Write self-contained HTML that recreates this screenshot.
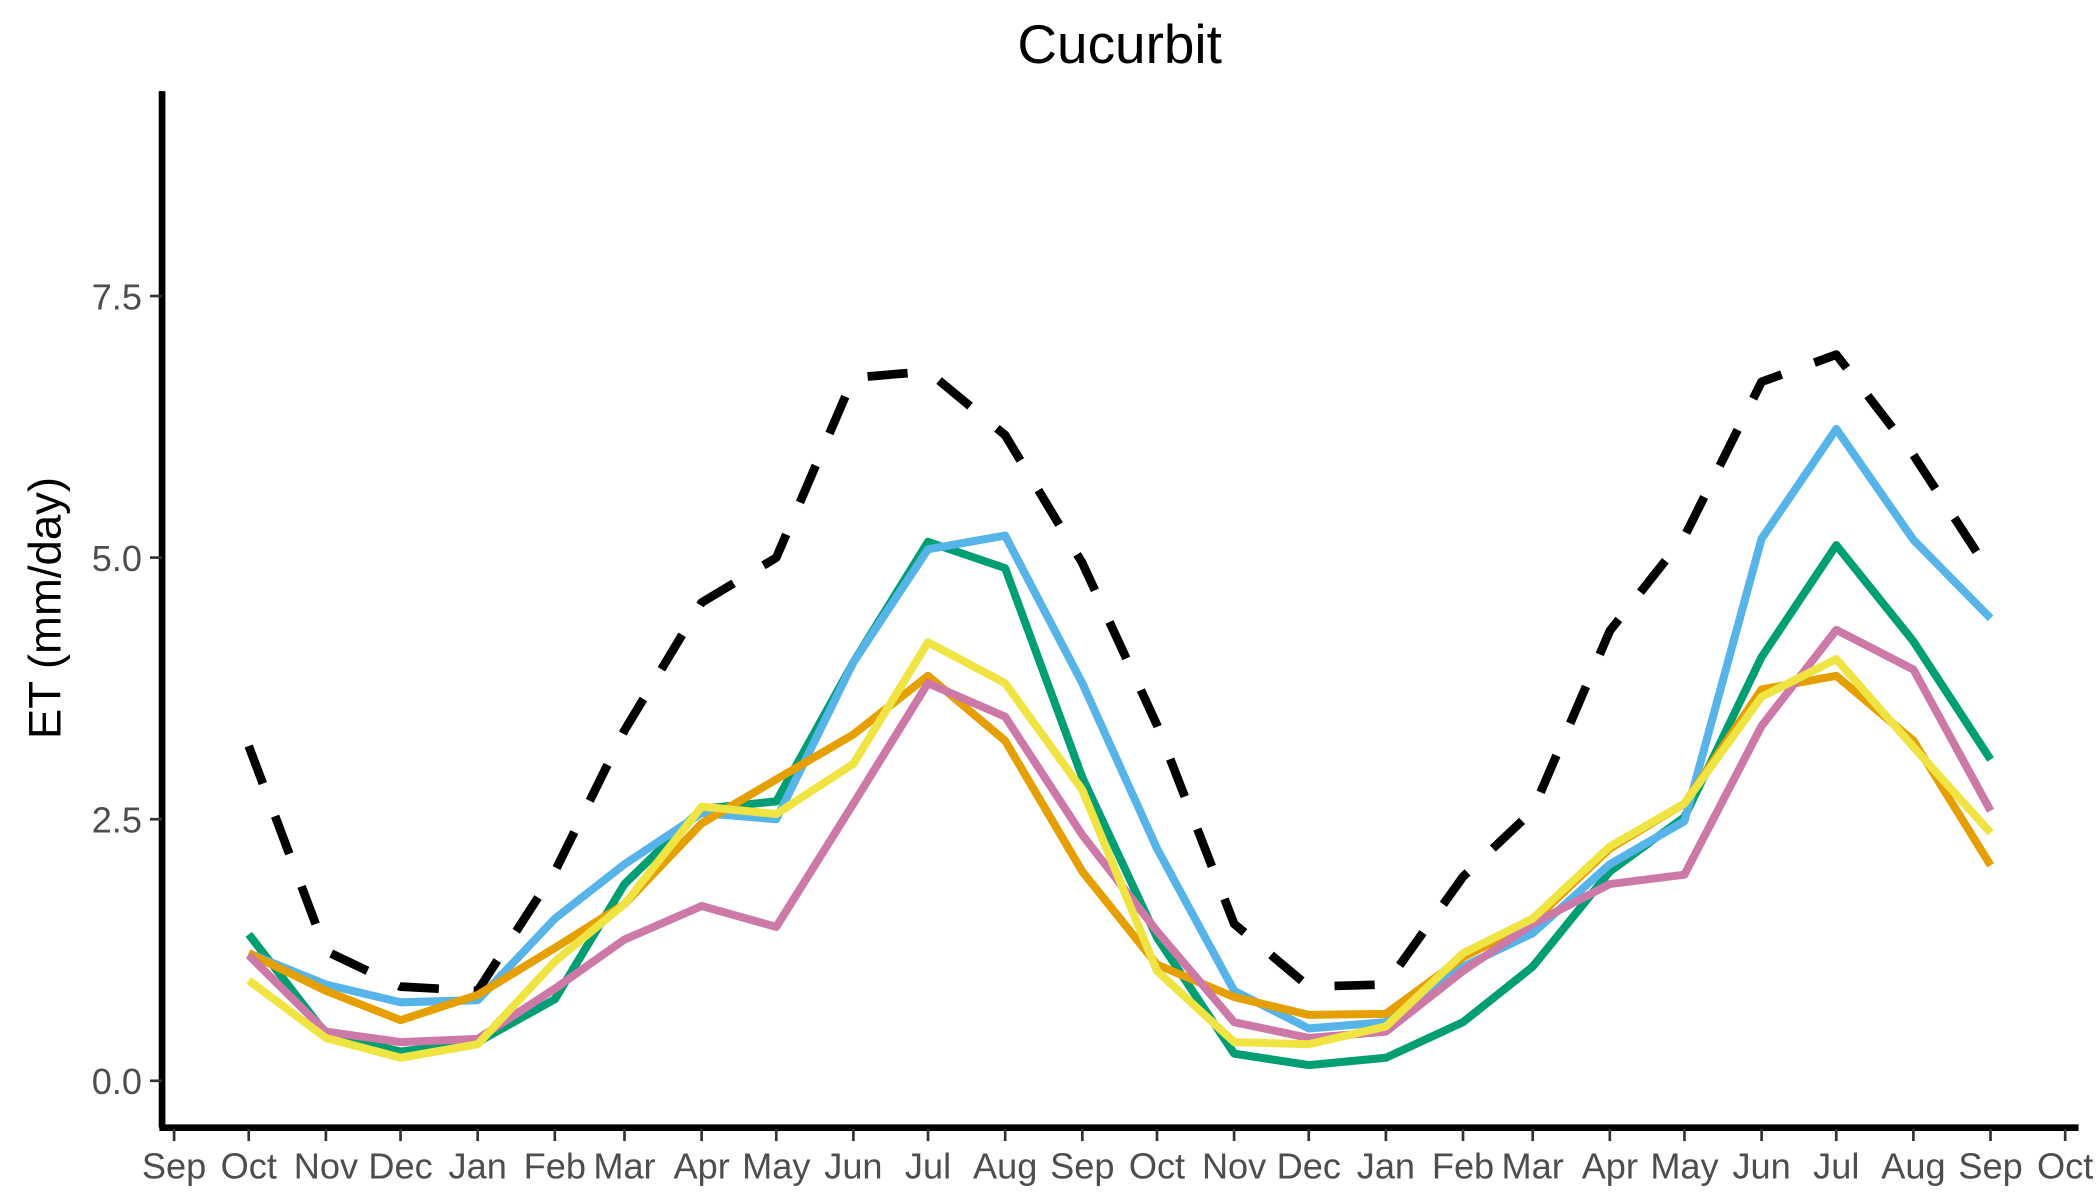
<!DOCTYPE html>
<html><head><meta charset="utf-8"><style>
html,body{margin:0;padding:0;background:#fff;}
svg{display:block;font-family:"Liberation Sans",Arial,sans-serif;}
</style></head><body>
<svg id="chart" width="2100" height="1200" viewBox="0 0 1568 896" xmlns="http://www.w3.org/2000/svg">
<rect width="1568" height="896" fill="#fff"/>
<text x="836" y="47" font-size="41" text-anchor="middle" fill="#000">Cucurbit</text>
<text transform="translate(45,454) rotate(-90)" font-size="34" text-anchor="middle" fill="#000">ET (mm/day)</text>
<g id="grid"></g>
<g id="series"></g>
<g id="axes"></g>
</svg>
<script>
const monthLabels = ["Sep","Oct","Nov","Dec","Jan","Feb","Mar","Apr","May","Jun","Jul","Aug","Sep","Oct","Nov","Dec","Jan","Feb","Mar","Apr","May","Jun","Jul","Aug","Sep","Oct"];
const yTicks = [0, 2.5, 5, 7.5];
const yTickLabels = ["0.0","2.5","5.0","7.5"];
const seriesNames = ["reference","green","blue","orange","pink","yellow"];
const refET = [3.2,1.24,0.9,0.86,2.0,3.35,4.57,5.0,6.72,6.78,6.17,4.95,3.4,1.5,0.9,0.92,1.95,2.58,4.3,5.2,6.68,6.94,5.98,4.85];
const greenET = [1.4,0.45,0.28,0.37,0.78,1.88,2.6,2.67,4.0,5.15,4.9,2.9,1.37,0.26,0.15,0.22,0.56,1.09,2.0,2.52,4.05,5.12,4.2,3.07];
const blueET = [1.22,0.92,0.75,0.77,1.55,2.07,2.56,2.5,4.0,5.08,5.21,3.8,2.22,0.86,0.5,0.56,1.09,1.41,2.07,2.48,5.18,6.23,5.17,4.42];
const orangeET = [1.22,0.86,0.58,0.82,1.27,1.69,2.46,2.88,3.31,3.87,3.25,2.0,1.11,0.8,0.63,0.64,1.18,1.52,2.22,2.65,3.74,3.87,3.25,2.06];
const pinkET = [1.2,0.47,0.37,0.4,0.88,1.35,1.67,1.47,2.65,3.8,3.48,2.35,1.43,0.56,0.41,0.47,1.05,1.5,1.88,1.97,3.39,4.31,3.93,2.58];
const yellowET = [0.96,0.41,0.22,0.35,1.14,1.69,2.62,2.55,3.03,4.19,3.8,2.78,1.05,0.37,0.35,0.52,1.22,1.55,2.24,2.65,3.67,4.03,3.19,2.37];

const NS="http://www.w3.org/2000/svg";
const start = Date.UTC(2021,8,1), end = Date.UTC(2023,9,1);
const X0=130, X1=1542, Y0=807, YPU=78.13;
function xDate(y,m){return X0+(Date.UTC(y,m,1)-start)/(end-start)*(X1-X0);}
function monthX(i){return xDate(2021, 8+i);}
function yScale(v){return Y0 - v*YPU;}
function mk(tag,attrs,parent){const e=document.createElementNS(NS,tag);for(const k in attrs)e.setAttribute(k,attrs[k]);parent.appendChild(e);return e;}

const series=document.getElementById('series');
const axes=document.getElementById('axes');
const styles={reference:{c:"#000",d:"30 26",w:6.5},green:{c:"#009E73",w:6},blue:{c:"#56B4E9",w:6},orange:{c:"#E69F00",w:6},pink:{c:"#CC79A7",w:6},yellow:{c:"#F0E442",w:6}};
const dataArr=[refET,greenET,blueET,orangeET,pinkET,yellowET];
dataArr.forEach((arr,si)=>{
  const name=seriesNames[si], st=styles[name];
  const pts=arr.map((v,i)=>monthX(i+1).toFixed(1)+","+yScale(v).toFixed(1)).join(" ");
  const pl=mk('polyline',{points:pts,fill:"none",stroke:st.c,"stroke-width":st.w,"stroke-linejoin":"round","stroke-linecap":"butt"},series);
  if(st.d) pl.setAttribute('stroke-dasharray',st.d);
  
  
});
const ya=mk('line',{x1:121,y1:68,x2:121,y2:842,stroke:"#000","stroke-width":5},axes);


const xa=mk('line',{x1:119,y1:842,x2:1552,y2:842,stroke:"#000","stroke-width":5},axes);


yTicks.forEach((v,i)=>{
  const y=yScale(v);
  mk('line',{x1:112,y1:y,x2:121,y2:y,stroke:"#333","stroke-width":2},axes);
  const t=mk('text',{x:106,y:y+10,"font-size":27,"text-anchor":"end",fill:"#4d4d4d"},axes);
  t.textContent=yTickLabels[i];
  
  
});
monthLabels.forEach((lab,i)=>{
  const x=monthX(i);
  mk('line',{x1:x,y1:843,x2:x,y2:852,stroke:"#333","stroke-width":2},axes);
  const t=mk('text',{x:x,y:880,"font-size":27,"text-anchor":"middle",fill:"#4d4d4d"},axes);
  t.textContent=lab;
  
  
});
</script>
</body></html>
